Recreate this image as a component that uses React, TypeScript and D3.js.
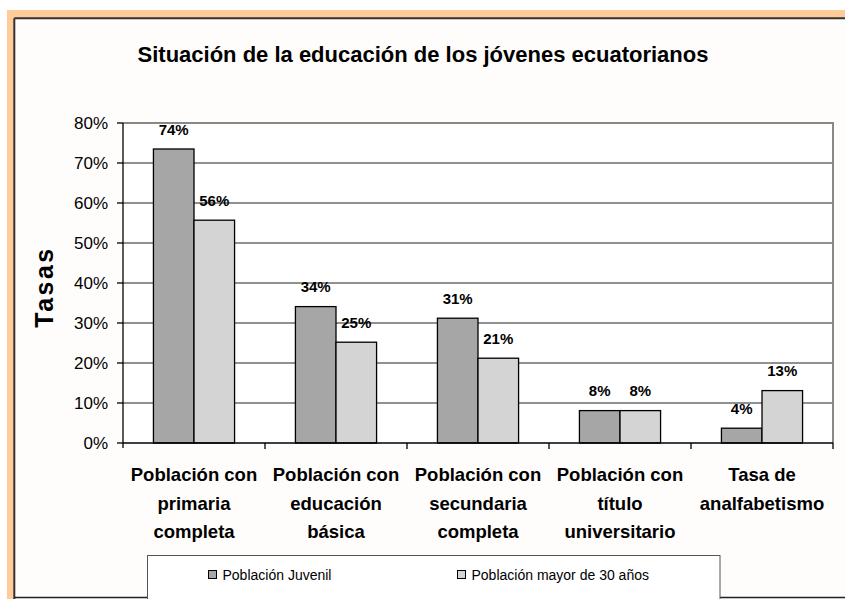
import React from "react";
import * as d3 from "d3";

const title = "Situación de la educación de los jóvenes ecuatorianos";
const yAxisTitle = "Tasas";
const categories = [
  ["Población con", "primaria", "completa"],
  ["Población con", "educación", "básica"],
  ["Población con", "secundaria", "completa"],
  ["Población con", "título", "universitario"],
  ["Tasa de", "analfabetismo"],
];
const seriesNames = ["Población Juvenil", "Población mayor de 30 años"];
const juvenil = [0.735, 0.341, 0.312, 0.081, 0.037];
const mayor30 = [0.557, 0.252, 0.212, 0.081, 0.131];
const juvenilLabels = ["74%", "34%", "31%", "8%", "4%"];
const mayor30Labels = ["56%", "25%", "21%", "8%", "13%"];
const yTicks = [0, 0.1, 0.2, 0.3, 0.4, 0.5, 0.6, 0.7, 0.8];

const W = 845;
const H = 599;
const FONT = "'Liberation Sans', Arial, sans-serif";
const colors = ["#a6a6a6", "#d4d4d4"];

export default function App() {
  const left = 123, right = 833, top = 123, bottom = 443;
  const idx = categories.map((_, i) => String(i));
  const x0 = d3.scaleBand<string>().domain(idx).range([left, right]).paddingInner(0).paddingOuter(0);
  const y = d3.scaleLinear().domain([0, 0.8]).range([bottom, top]);
  const step = x0.bandwidth();
  const barW = step / 3.5;
  const xs = d3.scaleBand<number>().domain([0, 1]).range([0.75 * barW, 2.75 * barW]).padding(0);
  const series = [juvenil, mayor30];
  const labels = [juvenilLabels, mayor30Labels];
  const fmt = d3.format(".0%");

  return (
    <svg width={W} height={H} style={{ position: "absolute", left: 0, top: 0, display: "block", background: "#fff" }} fontFamily={FONT}>
      {/* outer frame */}
      <rect x={7} y={10} width={W - 7} height={H - 10} fill="#ffcc99" />
      <rect x={14} y={18} width={W - 14} height={H - 18} fill="#fffdfb" />
      <line x1={14.3} y1={18.3} x2={W} y2={18.3} stroke="#333" strokeWidth={2} />
      <line x1={14.3} y1={18.3} x2={14.3} y2={H} stroke="#333" strokeWidth={2} />
      <line x1={14} y1={597.5} x2={W} y2={597.5} stroke="#222" strokeWidth={1.5} />

      <text x={423} y={62} textAnchor="middle" fontSize={22} fontWeight="bold" fill="#000">{title}</text>

      {/* plot area */}
      <rect x={left} y={top} width={right - left} height={bottom - top} fill="#fff" />
      {yTicks.slice(1, -1).map((t) => (
        <line key={t} x1={left} x2={right} y1={y(t)} y2={y(t)} stroke="#222" strokeWidth={1} />
      ))}
      <line x1={left} x2={right} y1={y(0.8)} y2={y(0.8)} stroke="#888" strokeWidth={2} />
      <line x1={right} x2={right} y1={y(0.8) - 1} y2={bottom} stroke="#888" strokeWidth={2} />

      {/* bars */}
      {series.map((vals, s) =>
        vals.map((v, i) => (
          <rect
            key={`${s}-${i}`}
            x={x0(String(i))! + xs(s)!}
            y={y(v)}
            width={barW}
            height={bottom - y(v)}
            fill={colors[s]}
            stroke="#000"
            strokeWidth={1.3}
          />
        ))
      )}
      {series.map((vals, s) =>
        vals.map((v, i) => (
          <text
            key={`l${s}-${i}`}
            x={x0(String(i))! + xs(s)! + barW / 2}
            y={y(v) - 14.5}
            textAnchor="middle"
            fontSize={15}
            fontWeight="bold"
            fill="#000"
          >
            {labels[s][i] || fmt(v)}
          </text>
        ))
      )}

      {/* y axis */}
      <line x1={left} x2={left} y1={top} y2={bottom + 5} stroke="#000" strokeWidth={1.3} />
      {yTicks.map((t) => (
        <g key={t}>
          <line x1={left - 6} x2={left} y1={y(t)} y2={y(t)} stroke="#000" strokeWidth={1.3} />
          <text x={108} y={y(t) + 6} textAnchor="end" fontSize={17} fill="#000">{d3.format(".0%")(t)}</text>
        </g>
      ))}
      <text transform={`translate(53,287) rotate(-90)`} textAnchor="middle" fontSize={25} fontWeight="bold" letterSpacing={2.5} fill="#000">{yAxisTitle}</text>

      {/* x axis */}
      <line x1={left} x2={right} y1={bottom} y2={bottom} stroke="#000" strokeWidth={1.3} />
      {idx.map((c) => (
        <line key={c} x1={x0(c)! + step} x2={x0(c)! + step} y1={bottom} y2={bottom + 6} stroke="#000" strokeWidth={1.3} />
      ))}
      {categories.map((lines, i) => (
        <text key={i} textAnchor="middle" fontSize={18.5} fontWeight="bold" fill="#000">
          {lines.map((ln, k) => (
            <tspan key={k} x={x0(String(i))! + step / 2} y={481 + k * 28.5}>{ln}</tspan>
          ))}
        </text>
      ))}

      {/* legend */}
      <rect x={147.5} y={555.5} width={572.5} height={45} fill="#fff" stroke="#555" strokeWidth={1} />
      {seriesNames.map((n, s) => {
        const lx = s === 0 ? 208.5 : 457.5;
        return (
          <g key={n}>
            <rect x={lx} y={570.5} width={8} height={8} fill={colors[s]} stroke="#000" strokeWidth={1} />
            <text x={lx + 14} y={579.5} fontSize={14} fill="#000">{n}</text>
          </g>
        );
      })}
    </svg>
  );
}
